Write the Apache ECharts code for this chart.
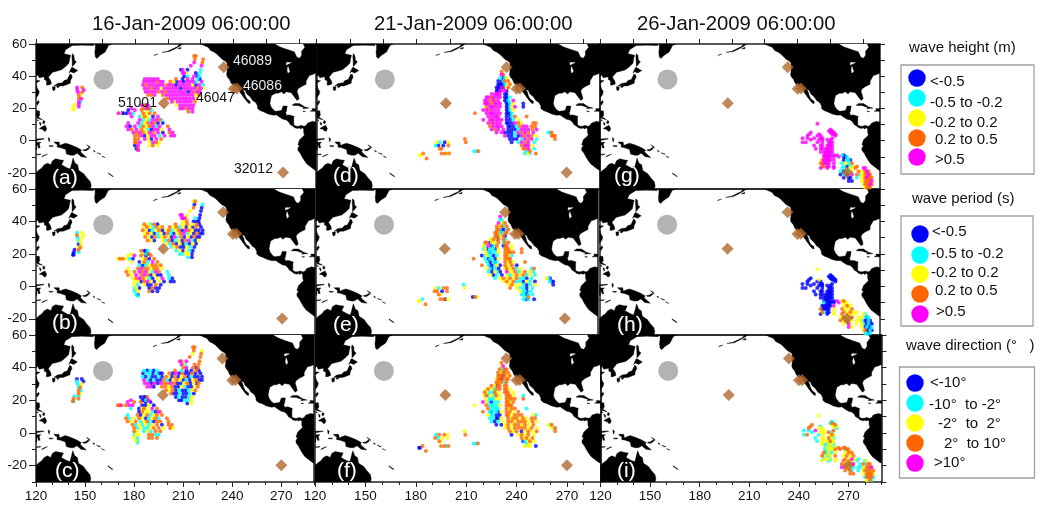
<!DOCTYPE html>
<html><head><meta charset="utf-8">
<style>html,body{margin:0;padding:0;background:#fff}#c{width:1043px;height:505px}</style>
<script src="https://cdn.jsdelivr.net/npm/echarts@6/dist/echarts.min.js"></script>
</head><body><div id="c"></div>
<script>
const FONT='"Liberation Sans",Arial,sans-serif';
const dates=['16-Jan-2009 06:00:00','21-Jan-2009 06:00:00','26-Jan-2009 06:00:00'];
const panelNames=['(a)','(b)','(c)','(d)','(e)','(f)','(g)','(h)','(i)'];
const xTickLabels=[120,150,180,210,240,270];
const yTickLabels=[-20,0,20,40,60];
const xTopTicks=[120,140,160,180,200,220,240,260,280];
const xMinorTicks=[130,140,160,170,190,200,220,230,250,260,280,290];
const yMinorTicks=[-30,-10,10,30,50];
const yAllTicks=[-30,-20,-10,0,10,20,30,40,50,60];
const circlePoint=[[161,38]];
const stations=[[197.6,23.2],[234,45.6],[240,32.3],[242,32.4],[270,-19.8]];

/* land, lon/lat */
const land=[
[[120,60],[155,60],[155,59],[148,59.3],[142,59],[138,56.5],[137,54],[141,53],[140.5,51],[140,48],[138,46],[135.5,44],[132,43],[130,42.5],[128,40],[127.5,39.5],[129,37],[129.3,35.2],[127.5,34.5],[126.3,34.5],[126.5,37],[125,38],[125,39.7],[122,39],[121,40.8],[120,40]],
[[156,60],[156,57],[155.7,55],[156,52],[157,51],[159,53],[162,55],[163,57],[164,59],[166,60]],
[[142,54],[143,53],[143.3,50],[144.5,49],[143,47],[142,46],[142,49],[141.8,52]],
[[140,42],[141.5,45.3],[142,45.5],[145.3,43.5],[143,42],[141,42.8]],
[[131,34],[133,35.5],[136,36],[137,37.3],[139,38],[140,40],[140.5,41.3],[141.5,41],[142,39.5],[141,37.5],[140.8,35.7],[138.5,34.7],[136.5,34],[135,34],[133,34.2]],
[[130,33.5],[131.7,33.5],[131.5,31.5],[130.5,31],[130,32]],
[[132.5,34],[134.5,34.2],[134,33.3],[133,32.8]],
[[120,37.5],[122.5,37.2],[120.5,36],[120,35.5]],
[[120,35],[121,32],[122,30.5],[121.5,28.5],[120,26.5]],
[[121.5,25],[122,24],[120.8,22],[120.2,23.5]],
[[120.3,18.5],[122,18.5],[122.3,16],[121.5,14.5],[124,13],[122,13.5],[120.6,14],[120,16]],
[[124.5,12.5],[125.5,12],[125,10.5],[124,11]],
[[120.5,13.2],[121.5,12.5],[121,12.2]],
[[122,11.5],[123,11],[123,9.5],[122.5,9.8]],
[[122,7.5],[123.5,8.5],[125.5,9.5],[126.5,7.5],[126,6],[125,5.8],[124,7]],
[[120,1],[124.5,1.3],[125,1],[121,0.3],[120,0],[120,-1],[121.5,-1],[123,-1],[122,-2],[122.5,-4.5],[121.5,-4.5],[121,-2.5],[120.5,-3],[120.5,-5.5],[120,-5.5]],
[[127.5,2],[128.5,1],[128,-0.8],[127.6,0.5]],
[[128,-3],[130.5,-3.2],[130,-3.7],[128,-3.5]],
[[123.5,-10.2],[127,-8.4],[125,-9],[124,-9.5]],
[[120,-8.5],[123,-8.2],[122.5,-8.8],[120,-8.8]],
[[131,-0.8],[134,-0.8],[134.5,-3],[136,-2.3],[138,-1.6],[141,-2.6],[145,-4.3],[147.8,-6],[147,-6.8],[148,-8],[150.8,-10.4],[147.5,-10],[145,-7.8],[143,-9],[141,-9],[138.5,-8.3],[138,-5.5],[135,-4.4],[132.8,-4],[133,-2.5],[131.5,-1.5]],
[[148.5,-5.6],[150,-5.5],[152,-4.2],[152.3,-5],[150.5,-6.3],[149,-6.2]],
[[150.8,-2.6],[152.8,-3.8],[153,-4.7],[151.5,-3.3]],
[[155,-6],[156,-6.7],[155.5,-7],[154.8,-6.3]],
[[157,-7.5],[159.5,-8.3],[159,-8.5]],
[[160,-9.5],[162,-10.5],[160.5,-10]],
[[164,-20],[167,-22.2],[166.5,-22.3],[164,-20.5]],
[[120,-19.8],[122,-18],[123.5,-17],[125,-15],[127,-14],[129,-15],[130,-12.5],[132,-11.3],[135,-12],[136.8,-12.2],[135.5,-15],[139,-17],[140.8,-17.5],[141.7,-14],[142.5,-10.8],[143.7,-14],[145.3,-15],[146,-18.5],[149,-20.5],[150.8,-23],[153,-25.5],[153.5,-28],[153,-30],[120,-30]],
[[191.5,52.8],[194,53.8],[192,53.2]],
[[196.5,54.8],[200,55.5],[203,57],[206,58.5],[207,60],[209,60],[207.5,58.8],[204,56.8],[201,55.3]],
[[206,57],[208,58],[208,57]],
[[220,60],[222,59],[224.5,58],[226,56],[228,55],[229.5,54],[231,52.5],[233,50.5],[235.5,49],[236,48],[236,46],[236,43],[235.7,41],[236.2,39.5],[237.5,38],[238.3,36],[239.5,34.5],[241,33.8],[242.8,32.5],[243.5,30.5],[245,28.5],[246,27],[247.5,25],[249,23.3],[250,23],[250,24.5],[248,26],[247,28],[246.5,30],[245.5,31.7],[247,31.3],[248,29],[250,27.2],[251.5,25],[253.5,23.5],[254.5,21.5],[254.5,20],[256,18.7],[258,18],[261,16.5],[264,15.8],[266,16],[268,14.5],[270,13.3],[272,12.8],[273.5,11.5],[274.3,10],[276,9],[277,8],[279,7.5],[280,8],[280.5,7.3],[282,8],[282.5,7],[282.5,5],[283,3.5],[282,2.5],[281,1.5],[280,0.5],[279.5,-1],[279,-2.5],[280,-3],[279,-4.5],[279,-6],[280.5,-8],[281.5,-10],[283,-12.5],[284.5,-14.5],[287,-16.5],[289,-18],[290,-18.5],[290,11.5],[288,12],[285,11],[284,9.5],[283,9],[282.5,9],[281,9.5],[279.5,9],[278,9],[276.5,9.8],[276.5,11],[276.5,14],[276.8,15],[274,16],[272,15.8],[271.5,17.8],[272,18],[272.5,21.5],[270,21.5],[269.5,20],[269,18.7],[265.5,18.2],[264.2,19],[262.7,21],[262,23],[262.5,26],[263,28],[265.5,29.5],[267,29.5],[269,30.3],[270.5,29],[272,30.3],[275,29.8],[277,27],[278.5,25],[279.8,26],[279.3,28],[278.5,30.5],[279,32],[281,33.5],[284,35],[284,37],[286,40.5],[288,41],[290,42],[290,60]],
[[275.5,22],[277,23],[280,23],[283,21],[285.7,20.2],[282,19.8],[282.5,20.6],[279,21.8],[276,21.9]],
[[287.5,19.9],[290,19.8],[290,18.2],[286.5,18.2],[287.8,19]],
[[282,18.4],[283.7,18.2],[282.5,17.9]]
];
const water=[
[[265.5,60],[268,58.5],[272,57],[277,55.3],[278.5,52],[280,51.5],[281,53],[281,55.5],[283,58],[282,60]],
[[272,47],[275,48.5],[272,48.5]],
[[273,46],[274,43],[273,42],[272.6,44]]
];

/* drifter rows: [lat, lon, lon, ...] */
const jan16Rows=[
[52.5,217,216],[50.5,221.5,216.5],[48.5,221,216],[46.5,220.5,214],[44,220,208,209,212],[42,219.5,209,210,211,217],[40,210,212,216,218,219],
[38.3,186,188,190,192,194,205,209,212,215,218,219.5],
[36.6,185.5,187.5,189.5,191.5,193.5,195.5,197,201.5,203.5,205.5,207.5,209.5,211.5,213.5,215.5,217.5,220.5],
[34.5,185,187,189,191,193,195,197,199.5,201,203,205,207,209,211,213,215,217,219,221.5],
[32.5,186,188,190,192,194,196,198,200,202,204,206,208,210,212,214,216,218,220,221.5],
[30.4,186.5,188.5,190.5,192.5,194.5,196.5,198.5,200.5,202.5,204.5,206.5,208.5,210.5,212.5,214.5,216.5,218,219.5],
[28.3,188,190,192,197,199,201,203,205,207,209,211,213,215,217,219],
[26.2,199.5,201.5,203.5,205.5,207.5,209.5,211.5,213.5,215.5,217.5],
[24.2,202.5,204,206,208,210,212,214,216.5],
[22,205.5,207.5,209.5,211.5,213.5,215.5],[20,207.5,209,211,213,215],[18,212.5,215],
[22,184,186,187,188],[20,178,185,186,187,188,189],[19,176,180,184,187,190],
[17,170,171,172,173,175,177,179,185,187,189,192],
[15,178,183,185,186,188,191,194],[13,183,185,187,189,191,193,195,196],
[11,176,182,184,186,188,190,192,194,197],
[9,175,177,180,183,185,187,189,191,193,195,200],
[7,176,178,181,184,186,188,190,192,194,196,201],
[5,179,181,183,185,187,189,191,194,197,201,203],
[3,180,182,184,186,188,190,192,195,198,202,204],
[1,180,182,186,188,190,193,196],[-1,180,181,183,189,191,193,195],[-3,180,182,189,191,194],[-5,181,182],[-6,182],
[33,145,148],[31.5,145,149],[30,145.5,148],[28,146,147],[26,146,147.5],[24,146,147],[22.5,143.5,146],[21,143,146],[19.5,142.5,143]
];
const jan21Rows=[
[43,231],[41,231,232],[39,230,232,233,234],[37,229,231,232,233,235],[35,229,230,231,232,233,235,236],[33,228,229,230,231,232,234,235],[31,228,229,230,231,233,234],
[29,225,227,228,229,230,233,234],[27,222,223,225,226,228,230,233,234,236],[25,221,222,224,226,227,229,233,234,235,238],
[23,221,222,223,225,227,228,230,234,235,236,238,244],[21,222,224,225,226,228,230,234,235,236,237,239,244],
[19,220,222,223,225,227,229,234,235,236,238],[17,215,222,224,225,226,228,230,234,235,236,237],
[15,223,225,227,228,229,234,236,237,239,246],[13,220,224,225,226,228,229,231,234,236,238,241],
[11,223,225,226,228,230,234,235,237,239,241,243,250,251.5],[9,224,226,228,229,231,235,236,238,240,242,244,246,249,251],
[7,225,227,229,232,235,237,239,241,243,245,247,249.5,252],[5,228,231,233,235,237,239,241,243,245,247,250,259,260,261],
[3,233,235,237,239,241,243,245,247,249,252,261,262,263],[1,209,236,238,240,243,245,247,249,252,263],
[-1,192,194,197,199,209.5,237,241,243,245,247,250.5],[-3,191.5,193,196,199,243,245,246,247,249.5],
[-5,194,195,244,245,247,248,250.5],[-6.5,214.5,216,217,246,248],[-8,184,195,197,198,199.5,245,247,248,251.5],[-9,182,182.5],[-11,186]
];
const jan26Rows=[
[10.5,252],[7,260],[6,259,260,261],[5,248,260,261,262],[4,247,253,261,262,263],[3,246,252,254,263],[1.5,243,246,250,254,255,261],[0.5,248,253,255,258,260],
[-1,243,245,252,255,259,260,261],[-3,250,254,255,258,259,260,261],[-5,251,254,255,257,258,259,260,261],[-7,254,256,257,258,259,260,261],
[-9,256,257,258,259,260,262,264,267,268],[-10,256,257,258,259,260,262,265,268,269,270],[-12,255,256,257,258,259,260,262,268,270,271,272],
[-14,254,255,256,257,258,259,262,267,269,271,273],[-16,255,256,258,259,262,268,270,272,274,276],[-17,254,258,262,267,272,275,280,281],
[-19,266,268,270,272,273,277,279,281,282,283],[-21,266,268,270,273,276,278,279,281,282,283,284],[-23,268,271,272,276,279,280,281,282,283,284,285],
[-25,271,273,279,281,282,283,284,285],[-27,280,281,282,283,284,285],[-29,281,282,283,284]
];

/* colour class of each drifter, row by row: b c y o m */
const classesA=["oo","oo","om","mm","cbmb","cmmyb","bcmbc","mmmmmobmmcb","mmmmommoybmbmmmcm","mommmmmommbmmmmybmc","mmommymmmmmbmmmmomy","mmmmomommmmmmbmomm","oomommmmmmmmmyo","ommmmmmmmy","mymmmmmo","ymmmmm","mmomm","om",
"mobm","moymbo","bmoyc","mybbbmcoyoo","mcyoybm","mcycmmoc","mmcyomobb","mbmcoyomcmo","momoycbmmym","momoymombom","oombymmcmmm","oomybmo","oomymoy","bmyoy","bo","m",
"mo","mm","mo","oy","om","mc","ym","ym","yy"];
const classesB=["oy","cb","bo","by","bmmy","bmmoc","yobbb","oycoboyoyob","yoycoyooyocybybob","oybcyobyocyobmoybbb","yoybcybocbyomcybobb","oybocyoybmcobybobb","oybycobcybomcby","ycobybcbyb","cyobbycb","cybycb","ccyyb","cb",
"obbc","yybcbo","ymobo","yoyoycbyobo","ybyocmo","cbcyooyo","yomooyooy","oyomomycmoc","oymomobybbc","yomoycbymcb","yybomybybbb","ycybbob","cybbobb","cyobb","cb","c",
"cy","oy","cy","cy","by","yo","bo","bc","bb"];
const classesC=["oo","yo","oy","oo","omom","omyco","omobo","cbcbcocbbob","bccbcbbobmbobbobb","cbcbbcboybobyobcbbb","mcbcbbocbyoybcbyobb","mmbmbmoomobbyobybo","mmbooyobbycbbyo","oyobcbbcyo","obbcbbcb","bcbbcy","bbccy","by",
"bbbo","mbbcbm","moobb","oomyommbbyb","cbyoymo","boyycbmo","cobyocyoo","ocyoybcyoco","oyocyocbooo","ocycycyoboo","ocyccyooyoy","oycycoo","cyyoocc","ycooo","yc","c",
"bb","cb","cy","co","oc","oy","cc","oo","oc"];
const classesD=["o","mo","cbcy","bbcoo","bbbbcyo","bbbmbyo","bbmmmb","mmmmmbb","mmommmbbc","mmomombbcm","mmmommmbbcyb","ommmmmbbcymb","mmommmbbcy","ommmmmmbbbc","mmmombbcoo","mmommmmbbcy","mommmbbbmoyoo","ommmmbbbcommoo","mommbbbcmmmom","mmbbbcmomomcco","mbbcbmomoyooo","obbbcmomco","ycbyobcmomc","cbboomomy","oooomyc","ccoco","oooyocyco","yy","o"];
const classesE=["m","cc","myco","oyoco","oocbbco","ooybcoo","oobyob","yoybooc","oobyyocoo","ycmbcobooy","cybccbyoooyo","ycbccyoyoooo","bcycbcooyc","ocbccbyoyoo","cbcbcoyoyo","ocbbcyboyob","ycbcbyoyocyco","cbycbmyyocyoyc","ybcbycyoyocyc","cyoyoyoccbcycb","yoyoccbycbcbb","cyoyycbcyb","ycooyoyccbc","ooboyccbc","oyccbcc","boyco","coobycbcb","yy","o"];
const classesF=["o","ym","ocoo","oyooo","oooboyo","yoobooo","ooyoco","oyboooo","yoycooooy","oyccoyoooy","yocycoyoooyc","ycccyyoyoooo","mycbccooyo","yoccccyoooo","occccoyooc","ocbccbyooyo","yccbbooyoooyc","ccbbyoyooyoyoo","cbcyooyoooyoy","bbyoyooyoyoyco","yoyooooyoyyco","yoyobyoyoo","cooyobyoyoy","ocyyoyoyo","oybcyoy","ccocy","ooocoyyyb","bb","o"];
const classesG=["m","m","mmm","mmmm","mmmmm","mmmm","mmmmmm","mmmmm","mmmmmmm","mmmmmmm","mmmmmmmm","mmmmmmm","mmmmmmmcb","mmmmmmmbbc","ommmmmmbccb","oommmmmcyco","oommmcbcyo","mmmcyomm","cbccyoyomo","bcbmocyoomo","bbbcyyomooo","bbyoooom","yooomo","yooo"];
const classesH=["y","b","bbb","bbbb","bybbb","bbbb","bbbbbb","bbbbb","bbbbbbb","bbbbbbb","bbbbbbbb","bbbbbbb","bbbbbbmyo","cbbbbbmyyy","bbbbbbmyoyy","obbbbbyoyyo","ocbbyoyoyy","bbyoyyyc","yoyyoyycbc","oyoyyycbbcb","ymyyycbbcbb","myybcbbc","yobbcb","ccbc"];
const classesI=["y","c","coc","oyco","ocycy","oyyc","ccmyyo","cyyoc","cocyyoy","cyyoyyc","cyyycoyy","yccycyc","cycycyooo","ccycyoocoo","occyccyyoyo","ocyccyoyoyo","cyycyoymyc","ycyoyccy","oyoomcocoo","moycccyooom","ooccyocooyo","ooyooooy","cooooc","ycoc"];

const classOrder=['b','c','y','o','m'];
const classColors={b:'#0000ff',c:'#00ffff',y:'#ffff00',o:'#ff6600',m:'#ff00ff'};
const legendColors=[classColors.b,classColors.c,classColors.y,classColors.o,classColors.m];
const legendTitles=['wave height (m)','wave period (s)','wave direction (°   )'];
const heightLabels=['<-0.5','-0.5 to -0.2','-0.2 to 0.2','0.2 to 0.5','>0.5'];
const periodLabels=['<-0.5','-0.5 to -0.2','-0.2 to 0.2','0.2 to 0.5','>0.5'];
const directionLabels=['<-10°','-10°  to -2°','-2°  to  2°','2°  to 10°','>10°'];

/* layout */
const panelRects=[ // left,right,top,bottom
[36,316,44,189],[36,315,189,335],[36,314,335,482],
[316.5,600,44,189],[316,598,189,335],[315,600.5,335,482],
[600,880,44,189],[599.5,880,189,335],[600.5,881.5,335,482]];
const panelRows=[jan16Rows,jan16Rows,jan16Rows,jan21Rows,jan21Rows,jan21Rows,jan26Rows,jan26Rows,jan26Rows];
const panelClasses=[classesA,classesB,classesC,classesD,classesE,classesF,classesG,classesH,classesI];
const panelLabelPos=[[52,178],[52,323.5],[55,471],[333,176],[333,325],[337,471],[614,176],[617,325],[617,471]];
const legendLayouts=[
 {box:[901,65,133,109],title:[909,48],cx:917,cy:[78,98,118,138,157],tx:[930,930,930,935,935],ty:[82,103,123,140,160],labels:heightLabels},
 {box:[901,216,132,110],title:[912,199],cx:920,cy:[234,255,274,294,314],tx:[932,931,931,935,936],ty:[232,254,273,291,312],labels:periodLabels},
 {box:[899.5,367,135,111],title:[906,346],cx:915,cy:[383,403,423,443,463],tx:[930,929,938,944,934],ty:[383,405,424,444,463],labels:directionLabels}
];
const stationText=[['46089',233,61,'#e8e8e8'],['46086',243,86,'#e8e8e8'],['51001',118,103,'#111'],['46047',196,98,'#111'],['32012',234,169,'#111']];

const LINE={show:true,onZero:false,lineStyle:{color:'#222',width:1.5}};
const NOLINE={show:false,onZero:false};
const TICKC={color:'#222',width:1};
const grid=[],xAxis=[],yAxis=[],series=[];
function polyRender(list,fill){
  return function(p,api){
    const pts=list[p.dataIndex].map(q=>api.coord(q));
    return {type:'polygon',shape:{points:pts},style:{fill:fill,stroke:fill,lineWidth:0.4},silent:true};
  };
}
panelRects.forEach((r,i)=>{
  const col=Math.floor(i/3),row=i%3;
  grid.push({left:r[0],top:r[2],width:r[1]-r[0],height:r[3]-r[2],containLabel:false});
  const xBase=xAxis.length,yBase=yAxis.length;
  const xCommon={type:'value',min:120,max:290,splitLine:{show:false},axisLine:LINE,gridIndex:i};
  xAxis.push({...xCommon,position:'bottom',
    axisTick:{show:row===2,customValues:xTickLabels,length:5,lineStyle:TICKC},
    axisLabel:{show:row===2,customValues:xTickLabels,fontFamily:FONT,fontSize:13.5,color:'#111',margin:7}});
  xAxis.push({...xCommon,position:'top',
    axisTick:{show:row===0,customValues:xTopTicks,length:5,lineStyle:TICKC},
    axisLabel:{show:false}});
  xAxis.push({...xCommon,position:'bottom',axisLine:NOLINE,
    axisTick:{show:row===2,customValues:xMinorTicks,length:3,lineStyle:TICKC},
    axisLabel:{show:false}});
  const yCommon={type:'value',min:-30,max:60,splitLine:{show:false},axisLine:LINE,gridIndex:i};
  yAxis.push({...yCommon,position:'left',
    axisTick:{show:col===0,customValues:yTickLabels,length:7,lineStyle:TICKC},
    axisLabel:{show:col===0,customValues:yTickLabels,fontFamily:FONT,fontSize:13.5,color:'#111',margin:9}});
  yAxis.push({...yCommon,position:'right',
    axisTick:{show:col===2,customValues:yAllTicks,length:5,lineStyle:TICKC},
    axisLabel:{show:false}});
  yAxis.push({...yCommon,position:'left',axisLine:NOLINE,
    axisTick:{show:col===0,customValues:yMinorTicks,length:4,lineStyle:TICKC},
    axisLabel:{show:false}});
  const ax={xAxisIndex:xBase,yAxisIndex:yBase};
  series.push({type:'custom',...ax,clip:true,silent:true,z:1,renderItem:polyRender(land,'#000'),data:land.map((_,k)=>[k]),animation:false});
  series.push({type:'custom',...ax,clip:true,silent:true,z:2,renderItem:polyRender(water,'#fff'),data:water.map((_,k)=>[k]),animation:false});
  const groups={b:[],c:[],y:[],o:[],m:[]};
  panelRows[i].forEach((rw,ri)=>{
    const cl=panelClasses[i][ri]||'';
    for(let j=1;j<rw.length;j++){const k=cl[j-1]; if(k) groups[k].push([rw[j],rw[0]]);}
  });
  classOrder.forEach((k,n)=>series.push({type:'scatter',...ax,z:3+n,silent:true,symbol:'circle',symbolSize:4,itemStyle:{color:classColors[k]},data:groups[k],animation:false}));
  series.push({type:'scatter',...ax,z:9,silent:true,symbol:'circle',symbolSize:20,itemStyle:{color:'#a0a0a0'},data:circlePoint,animation:false});
  series.push({type:'scatter',...ax,z:10,silent:true,symbol:'diamond',symbolSize:12,itemStyle:{color:'#b0692f'},data:stations,animation:false});
});

const graphic=[];
function txt(t,x,y,size,fill,extra){graphic.push({type:'text',z:100,silent:true,style:Object.assign({text:t,x:x,y:y,fill:fill,font:size+'px '+FONT,textVerticalAlign:'middle'},extra||{})});}
const titleX=[92,374,637];
dates.forEach((d,i)=>txt(d,titleX[i],24,20.3,'#111'));
panelNames.forEach((n,i)=>txt(n,panelLabelPos[i][0],panelLabelPos[i][1],21,'#fff',{stroke:'#333',lineWidth:0.4}));
stationText.forEach(s=>txt(s[0],s[1],s[2],14,s[3]));
legendLayouts.forEach((L,i)=>{
  graphic.push({type:'rect',z:90,silent:true,shape:{x:L.box[0],y:L.box[1],width:L.box[2],height:L.box[3]},style:{fill:'#fff',stroke:'#a0a0a0',lineWidth:1.3}});
  txt(legendTitles[i],L.title[0],L.title[1],15,'#111');
  L.labels.forEach((t,k)=>{
    graphic.push({type:'circle',z:95,silent:true,shape:{cx:L.cx,cy:L.cy[k],r:8.7},style:{fill:legendColors[k]}});
    txt(t,L.tx[k],L.ty[k],15,'#111');
  });
});

const chart=echarts.init(document.getElementById('c'),null,{renderer:'canvas'});
chart.setOption({animation:false,backgroundColor:'#fff',grid,xAxis,yAxis,series,graphic});
</script></body></html>
